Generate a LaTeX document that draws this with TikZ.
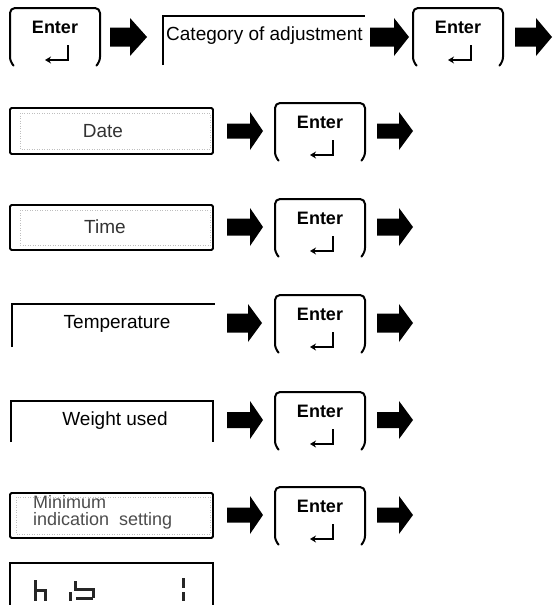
\documentclass[tikz,border=0pt]{standalone}
\usepackage{fontspec}
\setmainfont{Liberation Sans}
\usetikzlibrary{arrows.meta}
\newcommand\blkarrow[5]{% tail x, tip x, head x, centre y, shaft half-height
  \fill[black] (#1,#4-#5) -- (#3,#4-#5) -- (#3,#4-19) -- (#2,#4) -- (#3,#4+19) -- (#3,#4+#5) -- (#1,#4+#5) -- cycle;}
\tikzset{
  keyline/.style={line width=2pt, rounded corners=5pt, line join=round},
  boxline/.style={line width=1.8pt, rounded corners=1.5pt},
  openline/.style={line width=2.6pt},
  innerline/.style={line width=0.5pt, draw=black!25, dotted},
  lbl/.style={inner sep=0pt, font=\fontsize{19}{21}\selectfont},
  enterkey/.pic={
    \draw[keyline] (-42,29) -- (-45,26) -- (-45,-28) -- (45,-28) -- (45,26) -- (42,29);
    \node[inner sep=0pt, font=\bfseries\fontsize{18}{18}\selectfont] (-lbl) at (0,-9) {Enter};
    \draw[line width=2pt, -{Stealth[length=6pt,width=7pt]}] (13,9) -- (13,24) -- (-10,24);
  }
}
\begin{document}
\begin{tikzpicture}[x=1pt,y=-1pt]
\useasboundingbox (0,0) rectangle (552,605);
% ---------- row 1 ----------
\pic (k1) at (55,36) {enterkey};
\blkarrow{110}{147}{130}{37}{9.5}
\draw[openline] (163,65) -- (163,16) -- (365,16);
\node[lbl, anchor=west] (cat) at (166,36) {Category of adjustment};
\blkarrow{370}{409}{394}{37}{9.5}
\pic (k2) at (458,36) {enterkey};
\blkarrow{515}{552}{536}{37}{9.5}
% ---------- row 2: Date ----------
\draw[boxline] (10,108) rectangle (213,154);
\draw[innerline] (20,113) rectangle (210,149);
\node[lbl, text=black!80] (date) at (103,131) {Date};
\blkarrow{227}{263}{250}{131}{7.5}
\pic (k3) at (320,131) {enterkey};
\blkarrow{377}{413}{399}{131}{7.5}
% ---------- row 3: Time ----------
\draw[boxline] (10,205) rectangle (213,250);
\draw[innerline] (20,210) rectangle (210,245);
\node[lbl, text=black!80] (time) at (105,227) {Time};
\blkarrow{227}{263}{250}{227}{8.5}
\pic (k4) at (320,227) {enterkey};
\blkarrow{377}{413}{399}{227}{8.5}
% ---------- row 4: Temperature ----------
\draw[openline] (12,347) -- (12,304) -- (215,304);
\node[lbl] (temp) at (117,324) {Temperature};
\blkarrow{227}{262}{248}{323}{9.5}
\pic (k5) at (320,323) {enterkey};
\blkarrow{377}{413}{399}{323}{9.5}
% ---------- row 5: Weight used ----------
\draw[openline] (11,442) -- (11,401) -- (213,401) -- (213,442);
\node[lbl] (weight) at (115,421) {Weight used};
\blkarrow{227}{263}{250}{420}{8}
\pic (k6) at (320,420) {enterkey};
\blkarrow{377}{413}{399}{420}{8}
% ---------- row 6: Minimum indication setting ----------
\draw[boxline] (10,493) rectangle (213,538);
\draw[innerline] (16,497) rectangle (210,534);
\node[inner sep=0pt, anchor=west, text=black!70, font=\fontsize{18}{18}\selectfont] (min1) at (33,502) {Minimum};
\node[inner sep=0pt, anchor=west, text=black!70, font=\fontsize{18}{18}\selectfont] (min2) at (33,521) {indication\ \ setting};
\blkarrow{227}{263}{250}{515}{7.5}
\pic (k7) at (320,515) {enterkey};
\blkarrow{377}{413}{399}{515}{7.5}
% ---------- row 7: display ----------
\draw[line width=1.8pt] (10,606) -- (10,563) -- (213,563) -- (213,606);
\begin{scope}[line width=3pt, black!85]
  % h
  \draw (35,580) -- (35,601);
  \draw (35,590) -- (45,590) -- (45,601);
  % i
  \draw (70,592) -- (70,601);
  % 5-like glyph
  \draw (75,581) -- (75,589) -- (93,589) -- (93,598);
  \draw (76,598) -- (93,598);
  % 1
  \draw (183,578) -- (183,588);
  \draw (183,592) -- (183,601);
\end{scope}
\end{tikzpicture}
\end{document}
